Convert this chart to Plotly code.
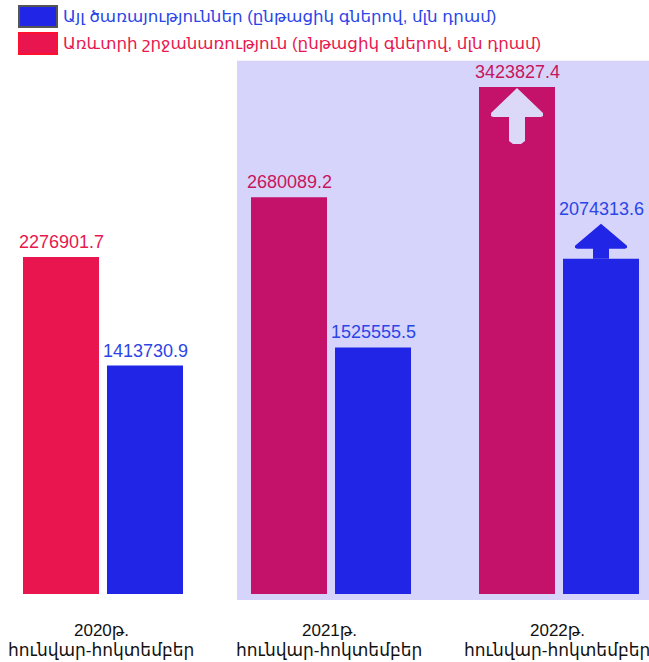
import plotly.graph_objects as go

years = ["2020թ.", "2021թ.", "2022թ."]
period = "հունվար-հոկտեմբեր"
tourism = [2276901.7, 2680089.2, 3423827.4]      # Առևտրի շրջանառություն
services = [1413730.9, 1525555.5, 2074313.6]     # Այլ ծառայություններ
label_tourism = "Առևտրի շրջանառություն (ընթացիկ գներով, մլն դրամ)"
label_services = "Այլ ծառայություններ (ընթացիկ գներով, մլն դրամ)"

W, H = 649, 662
PLOT_TOP, PLOT_BOT = 60, 594
T = PLOT_TOP
B = H - PLOT_BOT
PH = PLOT_BOT - PLOT_TOP
PXU = 228.0
X0 = 101.0
xr = [(0 - X0) / PXU, (W - X0) / PXU]
red_per_px = 1e6 / 148.05
blue_per_px = 1e6 / 161.62
yr1 = [0, PH * red_per_px]
yr2 = [0, PH * blue_per_px]

xs = list(range(len(years)))
FONT = "Arial, 'Liberation Sans', 'DejaVu Sans', sans-serif"
RED1 = "#E8154F"
RED2 = "#C4126A"
BLUE = "#2126E6"
LAV = "#D6D4FA"
BLUE_TXT = "#2B45E8"

def pxx(p):
    return p / W

def pyy(p):
    return (PLOT_BOT - p) / PH

fig = go.Figure()
fig.add_trace(go.Bar(
    x=xs, y=tourism, yaxis="y", name=label_tourism,
    width=76 / PXU, offset=-78 / PXU,
    marker=dict(color=[RED1, RED2, RED2], line=dict(width=0)),
    showlegend=False, hoverinfo="y",
))
fig.add_trace(go.Bar(
    x=xs, y=services, yaxis="y2", name=label_services,
    width=76 / PXU, offset=6 / PXU,
    marker=dict(color=BLUE, line=dict(width=0)),
    showlegend=False, hoverinfo="y",
))

shapes = []
shapes.append(dict(type="rect", xref="paper", yref="paper",
                   x0=pxx(237), x1=1.0, y0=pyy(600), y1=pyy(60.7),
                   fillcolor=LAV, line=dict(width=0), layer="below"))

def px_path(pts, cx, ytop, per_px):
    s = ""
    for i, (dx, dy) in enumerate(pts):
        x = cx + dx / PXU
        y = ytop - dy * per_px
        s += ("M" if i == 0 else "L") + f"{x},{y} "
    return s + "Z"

cx_r = 2 + (-78 + 38) / PXU
arrow_r = [(0, 1), (26, 26), (26, 29), (24, 30), (8, 30), (8, 54), (4, 57), (-4, 57), (-8, 54),
           (-8, 30), (-24, 30), (-26, 29), (-26, 26)]
shapes.append(dict(type="path", xref="x", yref="y",
                   path=px_path(arrow_r, cx_r, tourism[2], red_per_px),
                   fillcolor="#DCD8F8", line=dict(width=0)))
cx_b = 2 + (6 + 38) / PXU
arrow_b = [(0, -35), (26, -13), (26, -11), (24, -10), (8, -10), (8, 0), (-8, 0), (-8, -10),
           (-24, -10), (-26, -11), (-26, -13)]
shapes.append(dict(type="path", xref="x", yref="y2",
                   path=px_path(arrow_b, cx_b, services[2], blue_per_px),
                   fillcolor=BLUE, line=dict(width=0)))

shapes.append(dict(type="rect", xref="paper", yref="paper", x0=pxx(19), x1=pxx(57),
                   y0=pyy(27), y1=pyy(6), fillcolor=BLUE, line=dict(color="#555555", width=2)))
shapes.append(dict(type="rect", xref="paper", yref="paper", x0=pxx(19), x1=pxx(57),
                   y0=pyy(54), y1=pyy(33), fillcolor=RED1, line=dict(color="#FF1030", width=2)))
annotations = [
    dict(xref="paper", yref="paper", x=pxx(61), y=pyy(17), xanchor="left", yanchor="middle",
         text=label_services, showarrow=False, font=dict(family=FONT, size=16.7, color=BLUE_TXT)),
    dict(xref="paper", yref="paper", x=pxx(61), y=pyy(44), xanchor="left", yanchor="middle",
         text=label_tourism, showarrow=False, font=dict(family=FONT, size=16.7, color="#E8174E")),
]

red_txt = ["#E8174E", "#C8155E", "#C8155E"]
for i, v in enumerate(tourism):
    annotations.append(dict(xref="x", yref="y", x=i + (-78 + 38) / PXU, y=v, yanchor="bottom",
                            xanchor="center", yshift=3, text=f"{v:.1f}", showarrow=False,
                            font=dict(family=FONT, size=18, color=red_txt[i])))
for i, v in enumerate(services):
    extra = 35 if i == 2 else 0
    annotations.append(dict(xref="x", yref="y2", x=i + (6 + 38) / PXU, y=v,
                            yanchor="bottom", xanchor="center", yshift=3 + extra,
                            text=f"{v:.1f}", showarrow=False,
                            font=dict(family=FONT, size=18, color=BLUE_TXT)))

for i, yl in enumerate(years):
    annotations.append(dict(xref="x", yref="paper", x=i, y=pyy(630), yanchor="middle",
                            xanchor="center", text=yl, showarrow=False,
                            font=dict(family=FONT, size=17, color="#111111")))
    annotations.append(dict(xref="x", yref="paper", x=i, y=pyy(650), yanchor="middle",
                            xanchor="center", text=period, showarrow=False,
                            font=dict(family=FONT, size=17, color="#111111")))

fig.update_layout(
    width=W, height=H,
    margin=dict(l=0, r=0, t=T, b=B),
    paper_bgcolor="white", plot_bgcolor="rgba(0,0,0,0)",
    barmode="overlay",
    xaxis=dict(range=xr, tickvals=xs, showticklabels=False, showgrid=False, zeroline=False,
               showline=False, ticks=""),
    yaxis=dict(range=yr1, visible=False, showgrid=False),
    yaxis2=dict(range=yr2, visible=False, overlaying="y", showgrid=False),
    shapes=shapes, annotations=annotations,
)
fig.write_html("out.html", config={"displayModeBar": False},
               post_script="document.body.style.margin='0';document.body.style.overflow='hidden';")
